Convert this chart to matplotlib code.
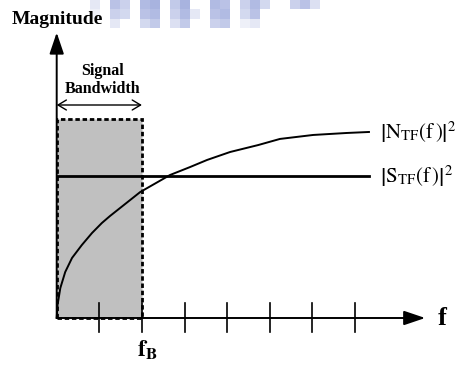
import numpy as np
import matplotlib
matplotlib.use("Agg")
import matplotlib.pyplot as plt
from matplotlib.patches import Rectangle

plt.rcParams['font.family'] = ['Liberation Serif', 'DejaVu Serif']
plt.rcParams['mathtext.fontset'] = 'stix'

# frequency axis in tick units, magnitude normalised to |S_TF|^2 = 1
freq = [0.0, 0.02, 0.085, 0.20, 0.36, 0.59, 0.83, 1.06, 1.25, 1.96,
        2.66, 3.13, 3.53, 4.07, 4.73, 5.24, 6.02, 6.81, 7.33]
noise_tf = [0.0, 0.092, 0.211, 0.324, 0.423, 0.514, 0.599, 0.669, 0.718, 0.887,
            1.007, 1.063, 1.113, 1.169, 1.218, 1.261, 1.289, 1.303, 1.310]
signal_tf = [1.0, 1.0]
signal_span = [0.0, 7.33]
ticks = [1, 2, 3, 4, 5, 6, 7]
f_b = 2.0
band_height = 1.40

# pixel geometry of the sketch
W, H = 463, 365
ox, oy = 56.7, 318.0     # origin in pixels
sx, sy = 42.6, 142.0     # pixels per unit

fig = plt.figure(figsize=(W / 100, H / 100), dpi=100)
ax = fig.add_axes([0, 0, 1, 1])
ax.set_xlim(-ox / sx, (W - ox) / sx)
ax.set_ylim((oy - H) / sy, oy / sy)
ax.axis('off')

# faint blue blocks along the top edge
blk = np.array([
    [0.3, 0.0, 0.8, 0.6, 0.0, 0.9, 1.0, 0.0, 0.7, 1.0, 0.0, 0.0, 0.9, 0.8, 0.0, 0.6, 0.9, 0.5, 0.0, 0.0, 0.6, 0.8, 0.4],
    [0.2, 0.0, 0.6, 0.5, 0.0, 0.8, 0.9, 0.0, 0.6, 0.9, 0.3, 0.0, 0.8, 0.9, 0.0, 0.5, 0.8, 0.0, 0.0, 0.0, 0.0, 0.0, 0.0],
    [0.0, 0.0, 0.3, 0.0, 0.0, 0.5, 0.7, 0.0, 0.4, 0.7, 0.0, 0.0, 0.6, 0.7, 0.0, 0.2, 0.3, 0.0, 0.0, 0.0, 0.0, 0.0, 0.0],
])
rgba = np.zeros(blk.shape + (4,))
rgba[..., 0] = 0.58
rgba[..., 1] = 0.63
rgba[..., 2] = 0.85
rgba[..., 3] = blk * 0.8
ax.imshow(rgba, extent=[(90 - ox) / sx, (320 - ox) / sx, (oy - 28) / sy, oy / sy],
          aspect='auto', interpolation='nearest', zorder=0)

# signal band
ax.add_patch(Rectangle((0, 0), f_b, band_height, facecolor='#c0c0c0',
                       edgecolor='black', lw=2, linestyle=(0, (1.6, 1.0)), zorder=1))

# axes with arrow heads
arrow = dict(arrowstyle='-|>,head_length=0.65,head_width=0.22', color='black',
             lw=1.4, mutation_scale=20, shrinkA=0, shrinkB=0)
ax.annotate('', xy=(8.65, 0), xytext=(0, 0), arrowprops=arrow, zorder=3)
ax.annotate('', xy=(0, 2.01), xytext=(0, 0), arrowprops=arrow, zorder=3)

# tick marks
for t in ticks:
    ax.plot([t, t], [-0.10, 0.105], color='black', lw=1.2, zorder=3)

# transfer functions
ax.plot(freq, noise_tf, color='black', lw=1.4, zorder=4)
ax.plot(signal_span, signal_tf, color='black', lw=2.0, zorder=4)

# bandwidth marker
ax.annotate('', xy=(f_b, 1.5), xytext=(0, 1.5),
            arrowprops=dict(arrowstyle='<->,head_length=0.5,head_width=0.3',
                            color='black', lw=1.0, mutation_scale=12,
                            shrinkA=0, shrinkB=0))
ax.text(1.08, 1.711, 'Signal', ha='center', va='baseline', fontsize=11.5, fontweight='bold')
ax.text(1.08, 1.585, 'Bandwidth', ha='center', va='baseline', fontsize=11.5, fontweight='bold')

ax.text(-1.05, 2.07, 'Magnitude', ha='left', va='baseline', fontsize=14, fontweight='bold')
ax.text(8.95, -0.05, 'f', ha='left', va='baseline', fontsize=19, fontweight='bold')
ax.text(1.885, -0.275, r'$\mathbf{f}_{\mathbf{B}}$', ha='left', va='baseline', fontsize=17)

ax.text(7.59, noise_tf[-1], r'$\left|\mathrm{N}_{\mathrm{TF}}(\mathrm{f}\,)\right|^2$',
        ha='left', va='center', fontsize=15)
ax.text(7.59, signal_tf[-1], r'$\left|\mathrm{S}_{\mathrm{TF}}(\mathrm{f}\,)\right|^2$',
        ha='left', va='center', fontsize=15)

fig.savefig('out.png', dpi=100)
